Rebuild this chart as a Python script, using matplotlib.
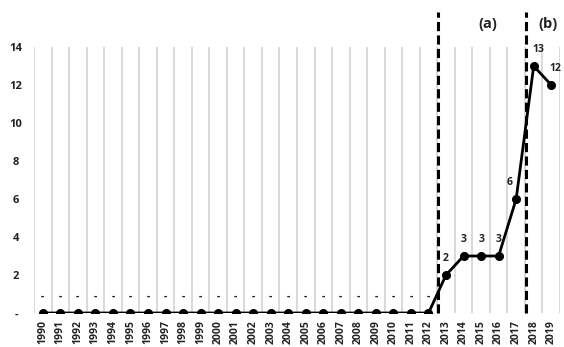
import numpy as np
import matplotlib as mpl
mpl.use('Agg')
import matplotlib.pyplot as plt

plt.rcParams['font.family'] = ['Open Sans', 'DejaVu Sans']

years = [str(y) for y in range(1990, 2020)]
counts = [0] * 23 + [2, 3, 3, 3, 6, 13, 12]
yticks = [0, 2, 4, 6, 8, 10, 12, 14]
ytick_labels = ['-', '2', '4', '6', '8', '10', '12', '14']
period_marks = [22.57, 27.58]
period_names = ['(a)', '(b)']
period_text_x = [25.4, 28.8]

# label offsets (points) for the data labels
label_dx = {27: -5, 28: 3, 29: 3}

fig = plt.figure(figsize=(5.64, 3.47), dpi=100)
ax = fig.add_axes([34 / 564, 34 / 347, 526 / 564, 266 / 347])

pos = np.arange(len(years))

# vertical gridlines between categories
for b in np.arange(-0.5, len(years), 1.0):
    ax.axvline(b, color='#d3d3d3', linewidth=1.2, zorder=0)

ax.plot(pos, counts, color='black', linewidth=2.0, marker='o',
        markersize=5.5, zorder=3)

for i, v in enumerate(counts):
    txt = '-' if v == 0 else str(v)
    ax.annotate(txt, (pos[i], v), xytext=(label_dx.get(i, 0), 12),
                textcoords='offset points', ha='center', va='center',
                fontsize=7.5, fontweight='bold', color='#222222')

for x in period_marks:
    ax.plot([x, x], [0, 15.85], color='black', linewidth=2.2,
            linestyle=(0, (3.0, 1.4)), clip_on=False, zorder=4)

for x, name in zip(period_text_x, period_names):
    ax.text(x, 15.2, name, ha='center', va='center', fontsize=10.5,
            fontweight='bold', color='#222222')

ax.set_xlim(-0.5, len(years) - 0.5)
ax.set_ylim(0, 14)
ax.set_xticks(pos)
ax.set_xticklabels(years, rotation=90, fontsize=7.5, fontweight='bold',
                   color='#222222')
ax.set_yticks(yticks)
ax.set_yticklabels(ytick_labels, fontsize=8, fontweight='bold',
                   color='#222222')
for lab in ax.get_yticklabels():
    lab.set_ha('center')
ax.tick_params(axis='y', length=0, pad=13)
ax.tick_params(axis='x', length=0, pad=5)
for s in ax.spines.values():
    s.set_visible(False)

plt.savefig('out.png', dpi=100)
